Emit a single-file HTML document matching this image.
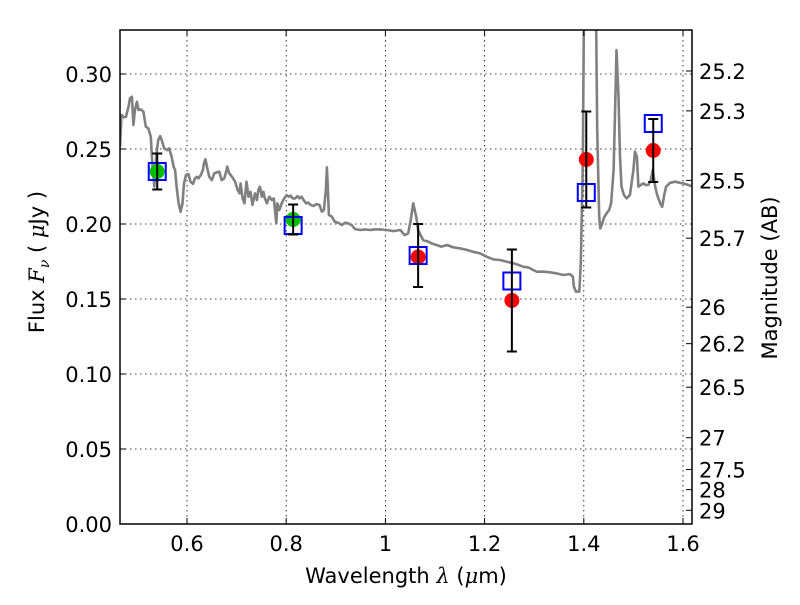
<!DOCTYPE html>
<html><head><meta charset="utf-8"><style>
body{margin:0;background:#fff}
svg{font-family:"DejaVu Sans","Liberation Sans",sans-serif}
</style></head><body>
<svg id="chart" width="800" height="600" viewBox="0 0 800 600">
<defs><clipPath id="clip"><rect x="120" y="30" width="572" height="494"/></clipPath></defs>
<rect x="0" y="0" width="800" height="600" fill="#fff"/>
<g id="grid"></g>
<g id="spec" clip-path="url(#clip)"></g>
<g id="marks"></g>
<rect x="120" y="30" width="572" height="494" fill="none" stroke="#000" stroke-width="1.5"/>
<g id="axes"></g>
<text x="406" y="583" font-size="21" text-anchor="middle">Wavelength  <tspan font-style="italic" font-family="DejaVu Serif, serif">λ</tspan> (<tspan font-style="italic" font-family="DejaVu Serif, serif">μ</tspan>m)</text>
<text transform="translate(44,262) rotate(-90)" font-size="21" text-anchor="middle">Flux  <tspan font-style="italic" font-family="DejaVu Serif, serif">F</tspan><tspan font-style="italic" font-size="14" dy="5" font-family="DejaVu Serif, serif">ν</tspan><tspan dy="-5">  (  </tspan><tspan font-style="italic" font-family="DejaVu Serif, serif">μ</tspan>Jy )</text>
<text transform="translate(777,278) rotate(-90)" font-size="21" text-anchor="middle">Magnitude (AB)</text>
</svg>
<script>
const xTicks=[0.6,0.8,1.0,1.2,1.4,1.6];
const xTickLabels=["0.6","0.8","1","1.2","1.4","1.6"];
const yTicks=[0,0.05,0.10,0.15,0.20,0.25,0.30];
const yTickLabels=["0.00","0.05","0.10","0.15","0.20","0.25","0.30"];
const magTicks=[25.2,25.3,25.5,25.7,26,26.2,26.5,27,27.5,28,29];
const magLabels=["25.2","25.3","25.5","25.7","26","26.2","26.5","27","27.5","28","29"];
const specLam=[0.465,0.468,0.473,0.477,0.482,0.485,0.489,0.492,0.495,0.499,0.502,0.507,0.512,0.517,0.522,0.527,0.530,0.534,0.538,0.542,0.546,0.550,0.554,0.560,0.564,0.569,0.573,0.576,0.579,0.583,0.587,0.591,0.594,0.598,0.603,0.607,0.612,0.616,0.620,0.623,0.628,0.632,0.634,0.637,0.641,0.645,0.650,0.655,0.660,0.665,0.670,0.675,0.679,0.681,0.685,0.691,0.697,0.702,0.706,0.708,0.712,0.716,0.720,0.724,0.728,0.732,0.737,0.741,0.744,0.747,0.751,0.754,0.757,0.761,0.766,0.771,0.775,0.780,0.782,0.786,0.791,0.796,0.801,0.805,0.809,0.813,0.818,0.823,0.827,0.831,0.835,0.840,0.845,0.849,0.855,0.861,0.867,0.872,0.876,0.880,0.882,0.884,0.886,0.892,0.898,0.905,0.912,0.919,0.925,0.932,0.939,0.949,0.959,0.969,0.979,0.989,1.003,1.016,1.030,1.039,1.046,1.051,1.056,1.062,1.066,1.076,1.087,1.093,1.103,1.113,1.124,1.137,1.150,1.164,1.177,1.191,1.204,1.218,1.231,1.244,1.258,1.268,1.278,1.288,1.298,1.305,1.318,1.332,1.345,1.359,1.372,1.378,1.380,1.384,1.391,1.394,1.398,1.400,1.402,1.423,1.425,1.427,1.431,1.433,1.436,1.441,1.446,1.451,1.455,1.460,1.463,1.466,1.470,1.473,1.476,1.481,1.486,1.493,1.500,1.503,1.507,1.510,1.515,1.520,1.525,1.530,1.535,1.539,1.544,1.548,1.554,1.558,1.562,1.566,1.574,1.584,1.594,1.604,1.617];
const specFlux=[0.2515,0.2727,0.2711,0.2715,0.2782,0.2838,0.2849,0.2660,0.2760,0.2815,0.2760,0.2764,0.2749,0.2649,0.2637,0.2582,0.2404,0.2249,0.2449,0.2560,0.2586,0.2549,0.2504,0.2493,0.2504,0.2449,0.2382,0.2360,0.2249,0.2138,0.2082,0.2138,0.2271,0.2327,0.2333,0.2282,0.2267,0.2304,0.2315,0.2304,0.2327,0.2360,0.2404,0.2431,0.2371,0.2315,0.2293,0.2338,0.2344,0.2349,0.2293,0.2304,0.2349,0.2382,0.2338,0.2315,0.2282,0.2227,0.2204,0.2271,0.2171,0.2138,0.2282,0.2182,0.2215,0.2127,0.2204,0.2160,0.2227,0.2249,0.2182,0.2215,0.2171,0.2138,0.2182,0.2160,0.2171,0.2004,0.2138,0.2093,0.2138,0.2171,0.2193,0.2182,0.2189,0.2171,0.2171,0.2186,0.2171,0.2182,0.2160,0.2138,0.2142,0.2127,0.2120,0.2133,0.2127,0.2082,0.2093,0.2227,0.2378,0.2227,0.2060,0.2049,0.2015,0.2009,0.1993,0.2009,0.2004,0.1993,0.1966,0.1960,0.1964,0.1960,0.1964,0.1964,0.1960,0.1953,0.1960,0.1926,0.1938,0.2026,0.2138,0.2049,0.1960,0.1893,0.1882,0.1871,0.1860,0.1849,0.1860,0.1844,0.1838,0.1827,0.1815,0.1804,0.1782,0.1764,0.1760,0.1749,0.1738,0.1727,0.1715,0.1711,0.1693,0.1682,0.1682,0.1678,0.1671,0.1660,0.1666,0.1649,0.1582,0.1549,0.1549,0.1738,0.2404,0.3293,0.46,0.46,0.3293,0.2627,0.2049,0.1971,0.1993,0.2044,0.2071,0.2093,0.2138,0.2360,0.2737,0.3160,0.2849,0.2449,0.2249,0.2193,0.2171,0.2193,0.2360,0.2482,0.2449,0.2249,0.2260,0.2271,0.2260,0.2260,0.2293,0.2360,0.2249,0.2193,0.2138,0.2115,0.2193,0.2249,0.2275,0.2282,0.2275,0.2267,0.2253];
const photLam=[0.540,0.814,1.066,1.255,1.405,1.540];
const photFlux=[0.235,0.203,0.178,0.149,0.243,0.249];
const photLo=[0.223,0.193,0.158,0.115,0.211,0.228];
const photHi=[0.247,0.213,0.200,0.183,0.275,0.270];
const modelFlux=[0.235,0.199,0.179,0.162,0.221,0.267];
const photColor=["#00bf00","#00bf00","#ff0000","#ff0000","#ff0000","#ff0000"];

const NS="http://www.w3.org/2000/svg";
const X=l=>187+(l-0.6)*496;
const Y=f=>524-f*1500;
const magToFlux=m=>Math.pow(10,(23.9-m)/2.5);
function mk(tag,attrs,parent){const e=document.createElementNS(NS,tag);for(const k in attrs)e.setAttribute(k,attrs[k]);parent.appendChild(e);return e;}
const grid=document.getElementById('grid'),axes=document.getElementById('axes'),spec=document.getElementById('spec'),marks=document.getElementById('marks');

xTicks.forEach((t,i)=>{const x=X(t);
 let g=mk('line',{x1:x,x2:x,y1:30,y2:524,stroke:'#000','stroke-width':0.8,'stroke-dasharray':'1.5,3.5'},grid);
 
 
 let a=mk('line',{x1:x,x2:x,y1:524,y2:518,stroke:'#000','stroke-width':1},axes);
 
 
 let b=mk('line',{x1:x,x2:x,y1:30,y2:36,stroke:'#000','stroke-width':1},axes);
 
 
 let tx=mk('text',{x:x,y:551,'font-size':21,'text-anchor':'middle'},axes);tx.textContent=xTickLabels[i];
 
 
});
yTicks.forEach((t,i)=>{const y=Y(t);
 let g=mk('line',{x1:120,x2:692,y1:y,y2:y,stroke:'#000','stroke-width':0.8,'stroke-dasharray':'1.5,3.5'},grid);
 
 
 let a=mk('line',{x1:120,x2:126,y1:y,y2:y,stroke:'#000','stroke-width':1},axes);
 
 
 let tx=mk('text',{x:112,y:y+8,'font-size':21,'text-anchor':'end'},axes);tx.textContent=yTickLabels[i];
 
 
});
magTicks.forEach((m,i)=>{const y=Y(magToFlux(m));
 let a=mk('line',{x1:686,x2:692,y1:y,y2:y,stroke:'#000','stroke-width':1},axes);
 
 
 let tx=mk('text',{x:699,y:y+8,'font-size':21,'text-anchor':'start'},axes);tx.textContent=magLabels[i];
 
 
});
let d=specLam.map((l,i)=>(i?'L':'M')+X(l).toFixed(1)+','+Y(specFlux[i]).toFixed(1)).join('');
let sp=mk('path',{d:d,fill:'none',stroke:'#808080','stroke-width':2.6,'stroke-linejoin':'round'},spec);


photLam.forEach((l,i)=>{const x=X(l);
 let c=mk('circle',{cx:x,cy:Y(photFlux[i]),r:7.5,fill:photColor[i]},marks);
 
 
 let r=mk('rect',{x:x-8.5,y:Y(modelFlux[i])-8.5,width:17,height:17,fill:'none',stroke:'#0000ff','stroke-width':2},marks);
 
 
 const e=mk('g',{stroke:'#000','stroke-width':2},marks);
 
 
 mk('line',{x1:x,x2:x,y1:Y(photLo[i]),y2:Y(photHi[i])},e);
 mk('line',{x1:x-5,x2:x+5,y1:Y(photLo[i]),y2:Y(photLo[i])},e);
 mk('line',{x1:x-5,x2:x+5,y1:Y(photHi[i]),y2:Y(photHi[i])},e);
});
</script>
</body></html>
